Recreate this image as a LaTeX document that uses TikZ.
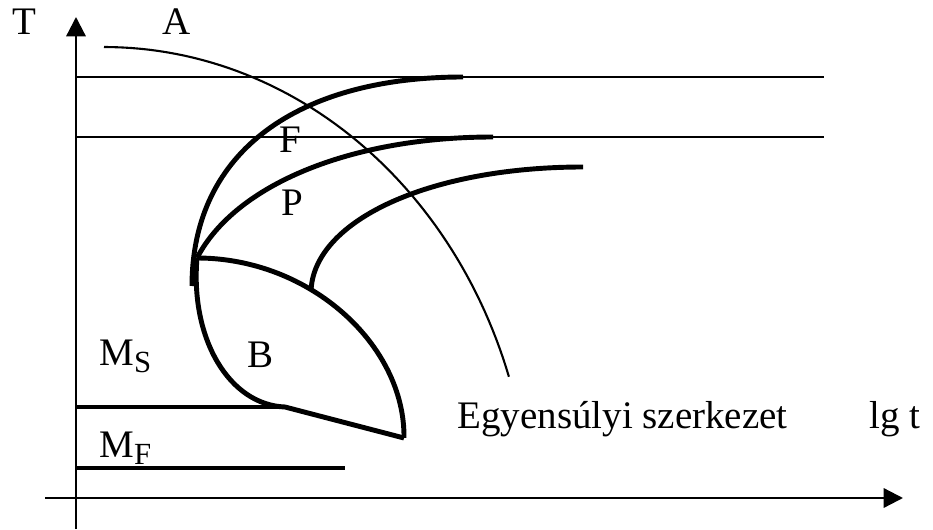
\documentclass[tikz,border=0pt]{standalone}
\usepackage{fontspec}
\setmainfont{Liberation Serif}
\usetikzlibrary{arrows.meta, positioning}
\tikzstyle{thinline} = [line width=1.6pt]
\tikzstyle{curveA} = [line width=1.2pt]
\tikzstyle{msline} = [line width=2.3pt]
\tikzstyle{thickline} = [line width=2.8pt, line join=round]
\tikzstyle{axis} = [line width=1.3pt, -{Triangle[length=11pt,width=11pt]}]
\tikzstyle{lbl} = [anchor=base west, inner sep=0pt, font=\fontsize{22.2}{24}\selectfont]
\newcommand{\phsub}[1]{\raisebox{-0.2em}{\fontsize{17.5}{18}\selectfont #1}}

\begin{document}
\begin{tikzpicture}[x=0.02cm, y=-0.02cm]
    \useasboundingbox (0,0) rectangle (933,530);
    % Axes
    \draw[axis] (76,529) -- (76,17);
    \draw[axis] (45,498) -- (903,498);

    % Horizontal lines
    \draw[thinline] (76,77) -- (824,77);
    \draw[thinline] (76,137) -- (824,137);
    \draw[msline] (76,407) -- (285,407);
    \draw[msline] (76,468) -- (345,468);

    % Key points
    \coordinate (nose) at (197,258);
    \coordinate (bfoot) at (285,407);
    \coordinate (tip) at (404,438);

    % Transformation curves
    \draw[thickline] (192,286) .. controls (192,150) and (300,77) .. (463,77);
    \draw[thickline] (nose) .. controls (235,185) and (350,137) .. (493,137);
    \draw[thickline] (nose) .. controls (310,258) and (405,345) .. (tip) coordinate[pos=0.37] (branch);
    \draw[thickline] (branch) .. controls (315,220) and (430,167) .. (583,167);
    \draw[thickline] (nose) .. controls (190,340) and (230,405) .. (bfoot) -- (tip);

    % Cooling curve
    \draw[curveA] plot[domain=90:18.5, samples=60] ({104+427*cos(\x)}, {530-483*sin(\x)});

    % Labels
    \node[lbl] (lblT) at (12,35) {T};
    \node[lbl] (lblA) at (162,35) {A};
    \node[lbl] (lblF) at (279,153) {F};
    \node[lbl] (lblP) at (281,215) {P};
    \node[lbl] (lblB) at (247,367) {B};
    \node[lbl] (lblMS) at (99,365) {M\phsub{S}};
    \node[lbl] (lblMF) at (99,457) {M\phsub{F}};
    \node[lbl] (lblEq) at (457,428) {Egyensúlyi szerkezet};
    \node[lbl] (lblt) at (869,428) {lg t};
\end{tikzpicture}
\end{document}
